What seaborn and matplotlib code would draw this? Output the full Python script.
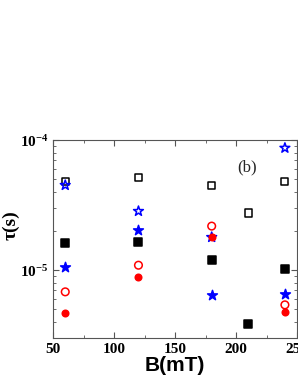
import pandas as pd
import seaborn as sns
import matplotlib.pyplot as plt
from matplotlib.ticker import LogLocator, MultipleLocator, NullFormatter

# tau values (seconds)
b_open_sq = [60, 120, 180, 210, 240]
tau_open_sq = [4.84e-5, 5.19e-5, 4.5e-5, 2.75e-5, 4.84e-5]
b_fill_sq = [60, 120, 180, 210, 240]
tau_fill_sq = [1.62e-5, 1.65e-5, 1.19e-5, 3.85e-6, 1.02e-5]
b_star = [60, 120, 180, 240]
tau_open_star = [4.5e-5, 2.84e-5, 1.79e-5, 8.7e-5]
tau_fill_star = [1.05e-5, 2.03e-5, 6.4e-6, 6.5e-6]
b_circ = [60, 120, 180, 240]
tau_open_circ = [6.8e-6, 1.09e-5, 2.18e-5, 5.4e-6]
tau_fill_circ = [4.7e-6, 8.9e-6, 1.8e-5, 4.75e-6]

sns.set_style("ticks")
plt.rcParams['font.family'] = ['Liberation Serif', 'DejaVu Serif']

fig = plt.figure(figsize=(2.98, 3.85), dpi=100)
ax = fig.add_axes([0.178, 0.122, 0.819, 0.514])

series = [
    (b_open_sq, tau_open_sq, 's', 'none', 'black', 26),
    (b_fill_sq, tau_fill_sq, 's', 'black', 'black', 26),
    (b_star, tau_open_star, '*', 'none', 'blue', 55),
    (b_star, tau_fill_star, '*', 'blue', 'blue', 55),
    (b_circ, tau_open_circ, 'o', 'none', 'red', 30),
    (b_circ, tau_fill_circ, 'o', 'red', 'red', 22),
]
for x, y, m, fc, ec, s in series:
    df = pd.DataFrame({'B': x, 'tau': y})
    sns.scatterplot(data=df, x='B', y='tau', marker=m, s=s, ax=ax,
                    facecolor=fc, edgecolor=ec, linewidth=1.1, zorder=3)

ax.set_yscale('log')
ax.set_xlim(50, 250)
ax.set_ylim(3.0e-6, 1e-4)
ax.xaxis.set_major_locator(MultipleLocator(50))
ax.xaxis.set_minor_locator(MultipleLocator(25))
ax.yaxis.set_major_locator(LogLocator(base=10))
ax.yaxis.set_minor_locator(LogLocator(base=10, subs=range(2, 10)))
ax.yaxis.set_minor_formatter(NullFormatter())
ax.tick_params(which='both', direction='in', top=True, right=True, colors='#555555')
ax.tick_params(which='major', length=4, labelsize=11, labelcolor='black')
ax.tick_params(which='minor', length=2)
for lab in ax.get_xticklabels() + ax.get_yticklabels():
    lab.set_fontweight('bold')
for sp in ax.spines.values():
    sp.set_color('#555555')

ax.set_xlabel('B(mT)', fontsize=15, fontweight='bold', color='black',
              family=['Liberation Sans', 'DejaVu Sans'], labelpad=0)
ax.set_ylabel('τ(s)', fontsize=14, fontweight='bold', color='black')
ax.yaxis.set_label_coords(-0.135, 0.57)
ax.text(0.795, 0.864, '(b)', transform=ax.transAxes, fontsize=12, ha='center', va='center')

fig.savefig('out.png', dpi=100)
